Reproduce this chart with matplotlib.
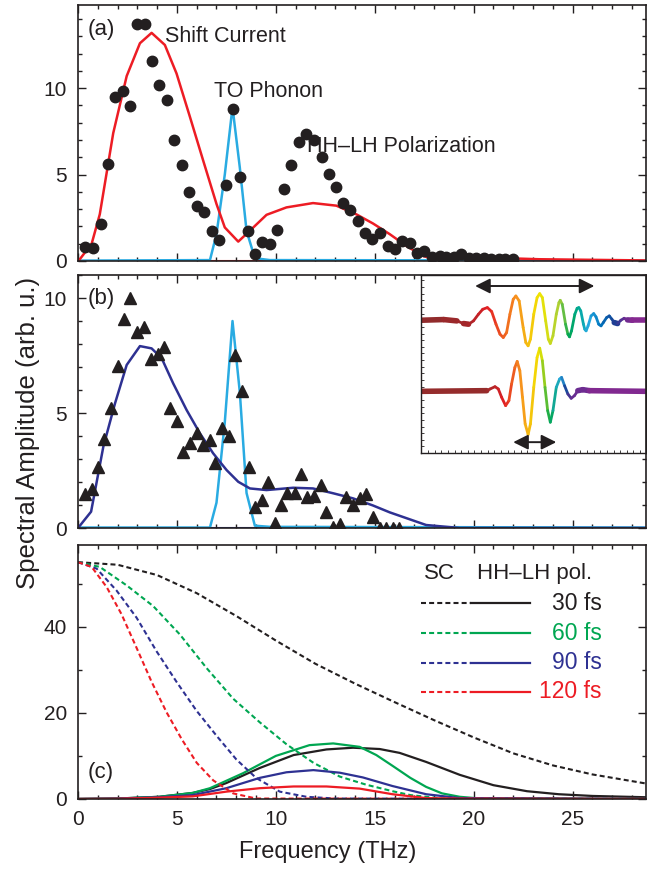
import numpy as np
import matplotlib
matplotlib.use("Agg")
import matplotlib.pyplot as plt
from matplotlib.ticker import MultipleLocator
from matplotlib.collections import LineCollection
from matplotlib.colors import LinearSegmentedColormap, Normalize

plt.rcParams['font.family'] = ['Liberation Sans', 'DejaVu Sans']

# (a) measured spectrum (circles) and fits
a_freq = [0.35, 0.77, 1.15, 1.53, 1.87, 2.26, 2.63, 3.0, 3.38, 3.74, 4.09, 4.48,
          4.86, 5.25, 5.62, 6.0, 6.36, 6.75, 7.12, 7.46, 7.81, 8.2, 8.57, 8.94,
          9.31, 9.7, 10.07, 10.42, 10.79, 11.16, 11.53, 11.92, 12.31, 12.68,
          13.03, 13.4, 13.74, 14.16, 14.5, 14.88, 15.25, 15.67, 16.0, 16.4,
          16.77, 17.14, 17.5, 17.9, 18.3, 18.6, 19.0, 19.38, 19.75, 20.1, 20.5,
          20.9, 21.3, 21.6, 22.0]
a_amp = [0.83, 0.74, 2.13, 5.62, 9.46, 9.84, 8.99, 13.7, 13.7, 11.6, 10.2, 9.3,
         7.0, 5.54, 3.97, 3.16, 2.83, 1.74, 1.24, 4.40, 8.82, 4.84, 1.74, 0.39,
         1.12, 1.0, 1.82, 4.17, 5.58, 6.88, 7.36, 7.0, 6.0, 5.04, 4.26, 3.33,
         2.95, 2.33, 1.59, 1.26, 1.59, 0.87, 0.68, 1.16, 1.03, 0.48, 0.58,
         0.25, 0.28, 0.25, 0.22, 0.39, 0.2, 0.15, 0.15, 0.13, 0.13, 0.13, 0.13]

a_fit_freq = [0.05, 0.69, 1.1, 1.78, 2.46, 3.13, 3.72, 4.39, 4.98, 5.66, 6.33,
              7.0, 7.42, 8.1, 8.77, 9.53, 10.54, 11.88, 13.06, 14.07, 14.91,
              15.76, 16.6, 17.44, 18.03, 18.79, 19.63, 20.8, 23.3, 28.7]
a_fit_amp = [0.04, 1.0, 2.7, 7.4, 10.7, 12.6, 13.2, 12.5, 10.85, 8.33, 5.8,
             3.3, 1.94, 1.12, 1.84, 2.67, 3.1, 3.35, 3.2, 2.7, 2.17, 1.55,
             0.87, 0.29, 0.1, 0.19, 0.23, 0.19, 0.1, 0.03]

phonon_freq = [0.0, 6.67, 7.0, 7.42, 7.81, 8.18, 8.52, 8.94, 9.7, 28.7]
phonon_a = [0.02, 0.05, 1.55, 5.0, 8.9, 5.4, 1.74, 0.16, 0.05, 0.02]
phonon_b = [0.02, 0.02, 1.1, 4.6, 9.0, 5.9, 1.52, 0.1, 0.05, 0.02]

# (b) measured spectrum (triangles) and fit
b_freq = [0.35, 0.72, 1.03, 1.33, 1.65, 2.0, 2.34, 2.64, 3.0, 3.35, 3.67, 4.06,
          4.36, 4.65, 4.98, 5.32, 5.66, 6.0, 6.33, 6.67, 6.95, 7.29, 7.64, 7.96,
          8.3, 8.64, 8.97, 9.28, 9.61, 9.95, 10.25, 10.59, 10.96, 11.26, 11.58,
          11.94, 12.27, 12.56, 12.9, 13.23, 13.57, 13.9, 14.24, 14.58, 14.91,
          15.25, 15.59, 15.92, 16.23]
b_amp = [1.47, 1.68, 2.67, 3.86, 5.23, 7.04, 9.09, 10.0, 8.54, 8.75, 7.36, 7.57,
         7.86, 5.23, 4.67, 3.32, 3.68, 4.12, 3.61, 3.83, 2.81, 4.33, 4.0, 7.52,
         5.96, 2.67, 0.9, 1.22, 2.01, 0.2, 1.0, 1.54, 1.54, 2.33, 1.36, 1.4,
         1.87, 0.71, 0.06, 0.16, 1.36, 1.0, 1.32, 1.47, 0.49, 0.02, 0.02, 0.02,
         0.02]

b_fit_freq = [0.0, 0.66, 1.28, 1.87, 2.46, 3.13, 3.72, 4.23, 4.81, 5.49, 6.16,
              6.83, 7.51, 8.1, 8.69, 9.53, 10.88, 11.88, 12.9, 13.9, 14.91,
              15.76, 17.6, 19.3, 28.7]
b_fit_amp = [0.0, 0.71, 3.54, 5.42, 7.09, 7.91, 7.81, 7.38, 6.29, 5.13, 4.12,
             3.25, 2.52, 2.01, 1.72, 1.65, 1.75, 1.72, 1.51, 1.29, 0.98, 0.68,
             0.13, 0.0, 0.0]

# (c) model spectra for different pulse durations
pulse_labels = ['30 fs', '60 fs', '90 fs', '120 fs']
pulse_colors = ['#231F20', '#00A651', '#2E3192', '#ED1C24']

sc_freq = [
    [0.0, 2.0, 4.0, 6.0, 8.0, 10.0, 12.0, 14.0, 16.0, 18.0, 20.0, 22.0, 24.0,
     26.0, 28.7],
    [0.0, 1.1, 2.46, 3.8, 5.15, 6.5, 7.84, 9.19, 10.54, 11.9, 13.23, 14.58,
     15.9, 16.8, 18.4, 28.7],
    [0.0, 0.94, 1.95, 2.96, 3.97, 4.98, 5.99, 7.0, 8.0, 9.0, 10.2, 11.55,
     13.0, 28.7],
    [0.0, 0.69, 1.45, 2.2, 2.96, 3.72, 4.48, 5.24, 6.0, 6.84, 7.84, 9.0, 28.7],
]
sc_amp = [
    [55.0, 54.4, 52.0, 47.8, 42.5, 36.8, 31.4, 26.8, 22.5, 18.3, 14.3, 10.6,
     7.8, 5.7, 3.6],
    [55.0, 53.9, 49.6, 44.8, 38.2, 30.4, 23.3, 17.8, 12.7, 8.4, 5.2, 3.3, 1.8,
     0.9, 0.1, 0.0],
    [55.0, 53.5, 48.4, 42.1, 34.3, 27.2, 20.5, 14.7, 9.2, 4.9, 1.7, 0.5, 0.1,
     0.0],
    [55.0, 53.9, 49.2, 42.9, 35.1, 27.2, 20.1, 13.9, 8.4, 4.3, 1.3, 0.1, 0.0],
]

pol_freq = [
    [0.0, 2.0, 4.1, 5.8, 6.67, 7.5, 9.19, 10.9, 12.56, 13.9, 15.25, 16.26,
     17.6, 19.3, 21.0, 22.7, 24.3, 26.0, 28.7],
    [0.0, 2.0, 4.1, 5.8, 6.67, 8.35, 10.0, 11.7, 12.9, 14.24, 15.08, 15.9,
     16.8, 17.6, 18.4, 19.3, 20.1, 28.7],
    [0.0, 2.0, 4.1, 5.8, 7.5, 9.19, 10.54, 11.9, 13.23, 14.4, 15.9, 17.6,
     19.3, 28.7],
    [0.0, 2.0, 4.1, 5.8, 7.5, 9.19, 10.9, 12.56, 14.24, 15.9, 17.6, 19.3,
     28.7],
]
pol_amp = [
    [0.0, 0.1, 0.5, 1.4, 2.3, 3.7, 7.2, 10.2, 11.5, 11.9, 11.6, 10.7, 8.6,
     5.6, 3.2, 1.8, 1.1, 0.7, 0.4],
    [0.0, 0.1, 0.5, 1.4, 2.5, 6.0, 10.0, 12.5, 12.9, 12.1, 10.2, 7.7, 4.9,
     2.8, 1.3, 0.5, 0.2, 0.0],
    [0.0, 0.1, 0.4, 0.9, 2.5, 4.9, 6.2, 6.7, 6.1, 5.0, 3.0, 1.1, 0.2, 0.0],
    [0.0, 0.05, 0.3, 0.6, 1.7, 2.5, 2.9, 2.9, 2.4, 1.1, 0.2, 0.05, 0.0],
]

# inset: measured transients (time in arb. units, amplitude relative to baseline)
upper_t = [0, 67, 107, 127, 142, 157, 172, 185, 199, 212, 225, 237, 247, 257,
           267, 277, 285, 295, 307, 315, 322, 329, 339, 349, 357, 365, 375,
           383, 389, 397, 407, 415, 419, 425, 435, 442, 447, 453, 463, 470,
           475, 481, 489, 493, 497, 503, 512, 520, 527, 535, 542, 549, 559,
           567, 575, 582, 592, 602, 612, 622, 637, 677]
upper_y = [0.0, 0.2, -0.2, -1.0, -1.2, -0.2, 1.8, 3.3, 3.8, 2.6, -1.2, -4.2,
           -5.2, -3.7, 1.8, 6.3, 7.3, 5.8, -2.2, -6.7, -7.7, -5.7, 1.8, 6.8,
           8.0, 6.8, -0.2, -5.7, -7.0, -4.7, 1.8, 5.3, 6.0, 4.8, -1.2, -4.2,
           -5.0, -3.2, 1.8, 3.6, 3.8, 2.8, -1.2, -2.7, -3.2, -1.7, 1.3, 2.0,
           1.0, -1.2, -1.7, -0.7, 0.8, 1.3, 0.3, -0.7, -1.0, 0.0, 0.6, 0.1,
           0.0, 0.0]
lower_t = [0, 197, 207, 222, 232, 242, 254, 264, 272, 282, 289, 297, 305, 313,
           322, 329, 339, 349, 357, 365, 373, 381, 389, 397, 407, 417, 423,
           432, 442, 452, 462, 472, 487, 507, 677]
lower_y = [0.0, 0.2, 0.7, 1.4, 0.7, -1.8, -4.3, -2.8, 2.2, 7.2, 9.0, 6.2,
           -1.8, -9.8, -13.0, -9.8, 1.2, 10.2, 13.0, 9.2, 1.2, -5.8, -9.3,
           -5.8, 1.2, 3.7, 4.2, 1.7, -0.8, -2.1, -1.3, 0.2, 0.5, 0.2, 0.0]

RED = '#ED1C24'
CYAN = '#29ABE2'
NAVY = '#2E3192'
DARK = '#231F20'


def style_axes(ax, ymax, ymajor, yminor, show_x=False):
    ax.set_xlim(0, 28.7)
    ax.set_ylim(0, ymax)
    ax.xaxis.set_major_locator(MultipleLocator(5))
    ax.xaxis.set_minor_locator(MultipleLocator(1))
    ax.yaxis.set_major_locator(MultipleLocator(ymajor))
    ax.yaxis.set_minor_locator(MultipleLocator(yminor))
    ax.tick_params(which='both', direction='in', top=True, right=True,
                   labelsize=15, colors=DARK, width=1, pad=8)
    ax.tick_params(which='major', length=6)
    ax.tick_params(which='minor', length=3)
    if not show_x:
        ax.tick_params(labelbottom=False)
    for sp in ax.spines.values():
        sp.set_linewidth(1.2)
        sp.set_color(DARK)


def rainbow_trace(ax, t, y, offset, stops):
    t = np.asarray(t, float)
    y = np.asarray(y, float) + offset
    pts = np.column_stack([t, y]).reshape(-1, 1, 2)
    segs = np.concatenate([pts[:-1], pts[1:]], axis=1)
    cmap = LinearSegmentedColormap.from_list(
        'trace', [(p / t[-1], c) for p, c in stops])
    mids = 0.5 * (t[:-1] + t[1:])
    slope = np.abs(np.diff(y)) / np.diff(t)
    widths = np.where(slope < 0.03, 4.0, 2.0)
    lc = LineCollection(segs, colors=cmap(Normalize(0, t[-1])(mids)),
                        linewidths=widths, capstyle='round')
    ax.add_collection(lc)


fig = plt.figure(figsize=(6.47, 8.69), dpi=100)
left, width = 0.1206, 0.8774
ax_a = fig.add_axes([left, 0.6997, width, 0.2943])
ax_b = fig.add_axes([left, 0.3924, width, 0.2911])
ax_c = fig.add_axes([left, 0.0806, width, 0.2923])

# (a)
ax_a.axhline(0, color=RED, lw=1.5, zorder=1)
ax_a.plot(phonon_freq, phonon_a, color=CYAN, lw=1.8, zorder=2)
ax_a.plot(a_fit_freq, a_fit_amp, color=RED, lw=1.8, zorder=2)
ax_a.plot(a_freq, a_amp, 'o', color=DARK, ms=7.5, zorder=3)
style_axes(ax_a, 14.8, 5, 1)
ax_a.text(0.5, 13.4, '(a)', fontsize=16, va='center', color=DARK)
ax_a.text(4.38, 12.97, 'Shift Current', fontsize=15.5, va='center', color=DARK)
ax_a.text(6.85, 9.83, 'TO Phonon', fontsize=15.5, va='center', color=DARK)
ax_a.text(11.6, 6.63, 'HH\u2013LH Polarization', fontsize=15.5, va='center',
          color=DARK, zorder=1)

# (b)
ax_b.axhline(0, color=NAVY, lw=1.5, zorder=1)
ax_b.plot(phonon_freq, phonon_b, color=CYAN, lw=1.8, zorder=2)
ax_b.plot(b_fit_freq, b_fit_amp, color=NAVY, lw=1.8, zorder=2)
ax_b.plot(b_freq, b_amp, '^', color=DARK, ms=9, zorder=3)
style_axes(ax_b, 11, 5, 1)
ax_b.text(0.5, 10.0, '(b)', fontsize=16, va='center', color=DARK)

# inset with the two transients
ins = ax_b.inset_axes([0.605, 0.296, 0.395, 0.704], zorder=2.4)
ins.set_facecolor('white')
ins.set_xlim(0, 677)
ins.set_ylim(0, 53.6)
rainbow_trace(ins, upper_t, upper_y, 40.0,
              [(0, '#8C2D2D'), (140, '#A3262A'), (200, '#E31E24'),
               (290, '#F7941D'), (357, '#F2E600'), (419, '#A6CE39'),
               (447, '#00A651'), (480, '#00A99D'), (505, '#27AAE1'),
               (545, '#0072BC'), (585, '#1B3F94'), (615, '#662D91'),
               (677, '#92278F')])
rainbow_trace(ins, lower_t, lower_y, 18.6,
              [(0, '#8C2D2D'), (200, '#9E2A2B'), (250, '#E31E24'),
               (300, '#F7941D'), (357, '#F2E600'), (389, '#00A651'),
               (420, '#27AAE1'), (440, '#1B3F94'), (455, '#662D91'),
               (677, '#92278F')])
arrow = dict(arrowstyle='<|-|>,head_length=0.9,head_width=0.45', color=DARK,
             lw=1.4, shrinkA=0, shrinkB=0)
ins.annotate('', xy=(162, 50.3), xytext=(522, 50.3), arrowprops=arrow)
ins.annotate('', xy=(277, 3.3), xytext=(407, 3.3), arrowprops=arrow)
ins.xaxis.set_major_locator(MultipleLocator(20))
ins.yaxis.set_major_locator(MultipleLocator(2))
ins.tick_params(direction='in', length=2, width=0.6, labelleft=False,
                labelbottom=False, colors=DARK)
for sp in ins.spines.values():
    sp.set_linewidth(1.0)
    sp.set_color(DARK)

# (c)
for k in range(4):
    ax_c.plot(sc_freq[k], sc_amp[k], color=pulse_colors[k], lw=1.5,
              dashes=(2.4, 1.5))
    ax_c.plot(pol_freq[k], pol_amp[k], color=pulse_colors[k], lw=1.6)
style_axes(ax_c, 59, 20, 10, show_x=True)
ax_c.text(0.5, 6.1, '(c)', fontsize=16, va='center', color=DARK)

# hand-built key for (c)
ax_c.text(0.609, 0.889, 'SC', transform=ax_c.transAxes, fontsize=16,
          va='center', color=DARK)
ax_c.text(0.703, 0.889, 'HH\u2013LH pol.', transform=ax_c.transAxes,
          fontsize=16, va='center', color=DARK)
for k, row in enumerate([0.770, 0.652, 0.537, 0.422]):
    ax_c.plot([0.605, 0.693], [row, row], transform=ax_c.transAxes,
              color=pulse_colors[k], lw=1.5, dashes=(2.4, 1.5))
    ax_c.plot([0.693, 0.796], [row, row], transform=ax_c.transAxes,
              color=pulse_colors[k], lw=1.6)
    ax_c.text(0.922, row, pulse_labels[k], transform=ax_c.transAxes,
              fontsize=16.5, ha='right', va='center', color=pulse_colors[k])

fig.text(0.507, 0.0195, 'Frequency (THz)', fontsize=17, ha='center',
         va='center', color=DARK)
fig.text(0.043, 0.502, 'Spectral Amplitude (arb. u.)', fontsize=18.5,
         rotation=90, ha='center', va='center', color=DARK)

fig.savefig('out.png', dpi=100)
